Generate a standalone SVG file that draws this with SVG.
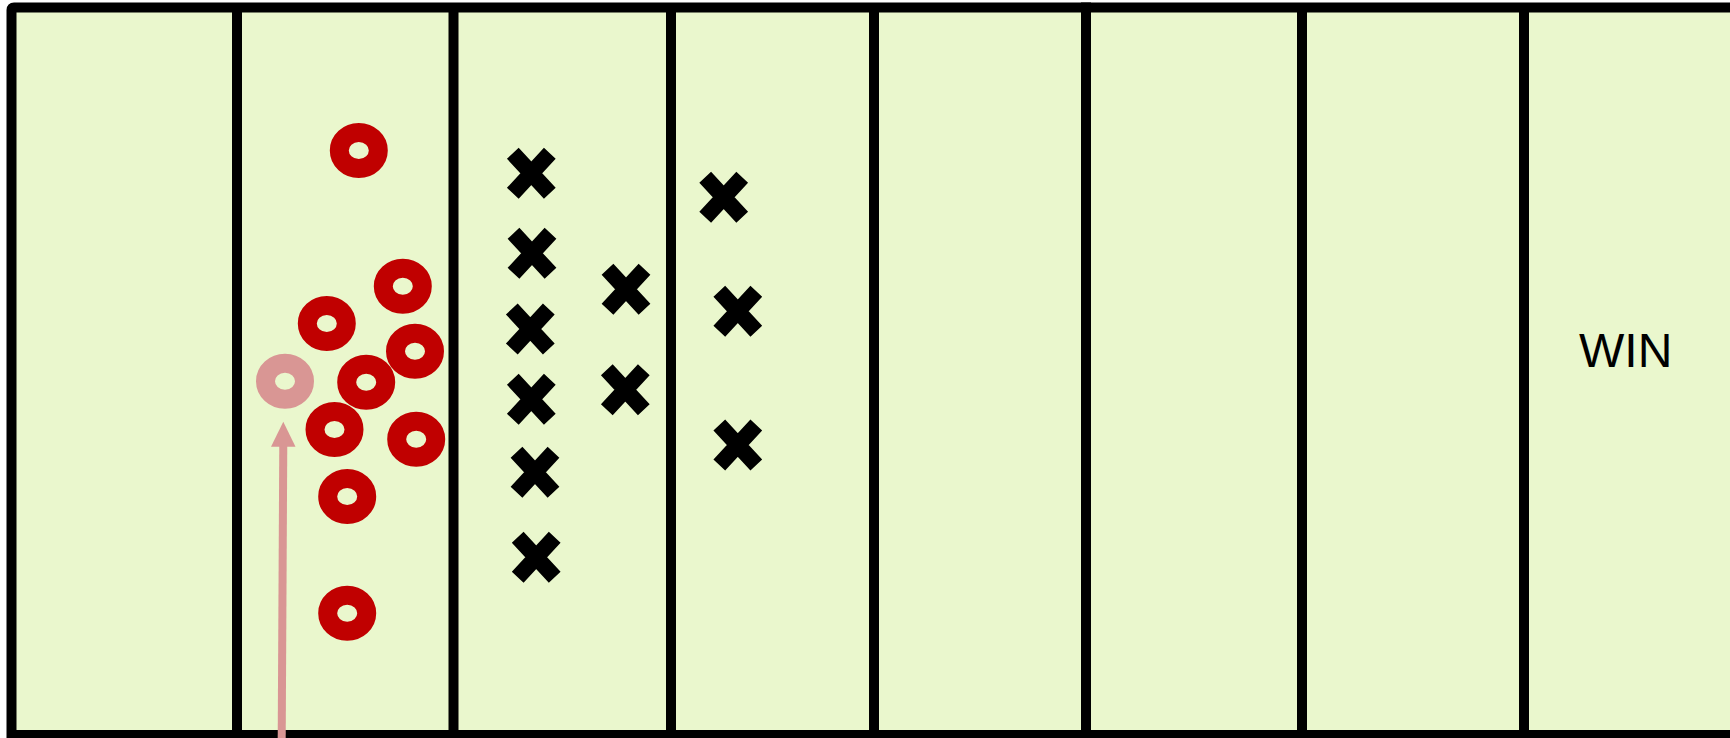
<svg xmlns="http://www.w3.org/2000/svg" width="1730" height="738" viewBox="0 0 1730 738">
<defs>
<style>
.line{stroke:#000;stroke-width:10;fill:none}
.ring{fill:none;stroke:#C00000;stroke-width:19}
.ring2{fill:none;stroke:#D99694;stroke-width:19}
.x{stroke:#000;stroke-width:16;stroke-linecap:butt;fill:none}
.lbl{font-family:"Liberation Sans",Arial,sans-serif;font-size:48px;fill:#000}
</style>
<path id="xm" class="x" d="M-18.5,-20 L18.5,20 M18.5,-20 L-18.5,20"/>
</defs>
<rect x="0" y="0" width="1730" height="738" fill="#fff"/>
<g id="field">
<rect x="11" y="7" width="1719" height="728" fill="#EAF7CD"/>
<path class="line" d="M1730,7.5 L14,7.5 Q11.5,7.5 11.5,10 L11.5,735 L1730,735" stroke-width="9"/>
<line class="line" x1="237" y1="7" x2="237" y2="735"/>
<line class="line" x1="453.5" y1="7" x2="453.5" y2="735"/>
<line class="line" x1="671" y1="7" x2="671" y2="735"/>
<line class="line" x1="874" y1="7" x2="874" y2="735"/>
<line class="line" x1="1086" y1="2.5" x2="1086" y2="735"/>
<line class="line" x1="1302" y1="7" x2="1302" y2="735"/>
<line class="line" x1="1524" y1="7" x2="1524" y2="735"/>
</g>
<g id="rings">
<ellipse class="ring" cx="358.8" cy="150.5" rx="19.5" ry="18"/>
<ellipse class="ring" cx="402.8" cy="286.2" rx="19.5" ry="18"/>
<ellipse class="ring" cx="326.8" cy="323.5" rx="19.5" ry="18"/>
<ellipse class="ring" cx="415" cy="351.3" rx="19.5" ry="18"/>
<ellipse class="ring" cx="366.2" cy="382.2" rx="19.5" ry="18"/>
<ellipse class="ring" cx="334.5" cy="429.5" rx="19.5" ry="18"/>
<ellipse class="ring" cx="416.2" cy="439.2" rx="19.5" ry="18"/>
<ellipse class="ring" cx="347.2" cy="496.5" rx="19.5" ry="18"/>
<ellipse class="ring" cx="347.2" cy="613.3" rx="19.5" ry="18"/>
</g>
<g id="player-moving">
<ellipse class="ring2" cx="285" cy="381.3" rx="19.5" ry="18"/>
</g>
<g id="crosses">
<use href="#xm" x="531.3" y="173.3"/>
<use href="#xm" x="532" y="253.3"/>
<use href="#xm" x="530.3" y="329"/>
<use href="#xm" x="531.3" y="399.3"/>
<use href="#xm" x="535" y="472.2"/>
<use href="#xm" x="536.2" y="557.2"/>
<use href="#xm" x="626" y="289.3"/>
<use href="#xm" x="625.3" y="389.7"/>
<use href="#xm" x="723.7" y="197.2"/>
<use href="#xm" x="737.8" y="311.2"/>
<use href="#xm" x="737.8" y="445"/>
</g>
<g id="connectors">
<line x1="281.7" y1="738" x2="283.3" y2="440" stroke="#D99694" stroke-width="8"/>
<polygon points="283.3,421.7 295.5,446.7 271,446.7" fill="#D99694"/>
</g>
<g id="win-label">
<text class="lbl" x="1579" y="366.7">WIN</text>
</g>
</svg>
